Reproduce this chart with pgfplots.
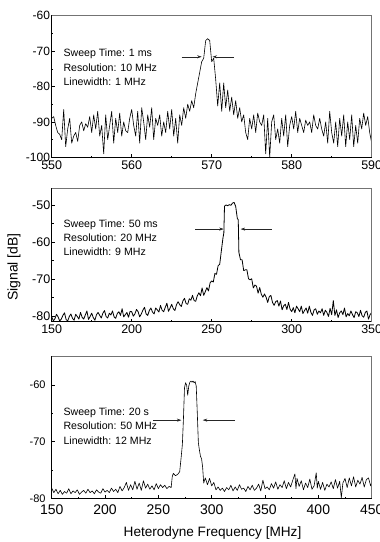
\documentclass[border=0pt]{standalone}
\usepackage{fontspec}
\setmainfont{Liberation Sans}
\usepackage{pgfplots}
\pgfplotsset{compat=1.18}
\usetikzlibrary{arrows.meta}
\begin{document}
\begin{tikzpicture}[x=1pt,y=1pt]
\pgfplotsset{panel/.style={
  scale only axis, width=320pt, anchor=north west,
  tick align=inside, tick pos=left,
  minor x tick num=1, minor y tick num=1,
  major tick length=3pt, minor tick length=1.8pt,
  tick style={black, line width=0.5pt},
  axis line style={line width=0.7pt},
  clip=false,
  /pgf/number format/assume math mode=true,
  /pgf/number format/1000 sep={},
}}
\tikzset{dat/.style={black, mark=none, line width=0.6pt, line join=round}}
\newcommand{\topright}{\draw[line width=0.8pt, black!55] (rel axis cs:0,1) -- (rel axis cs:1,1) -- (rel axis cs:1,0);}
\tikzset{arr/.style={-{Stealth[length=4.5pt,width=3pt]}, line width=0.5pt, black!85}}
% Panel 1
\begin{axis}[panel, at={(51.7pt,-15.7pt)}, height=141.6pt,
  xmin=550, xmax=590, ymin=-100, ymax=-60,
  xtick={550,560,570,580,590}, ytick={-100,-90,-80,-70,-60},
  xticklabel style={font=\fontsize{12.5}{12.5}\selectfont},
  yticklabel style={font=\fontsize{12}{12}\selectfont, inner xsep=1.5pt}]
\addplot[dat] coordinates {
(550.00,-89)(550.25,-88.5)(550.5,-91)(550.75,-93)(551.0,-93.5)(551.25,-95)(551.5,-86.5)(551.75,-97)
(552.0,-92)(552.25,-89)(552.5,-96)(552.75,-94)(553.0,-93)(553.25,-95.5)(553.5,-91)(553.75,-90)
(554.0,-92.5)(554.25,-90.5)(554.5,-91.5)(554.75,-88.5)(555.0,-93)(555.25,-88)(555.5,-92)(555.75,-87)
(556.0,-94)(556.25,-91)(556.5,-99)(556.75,-88)(557.0,-95)(557.25,-91)(557.5,-87)(557.75,-96)
(558.0,-89)(558.25,-93)(558.5,-87.5)(558.75,-94)(559.0,-90)(559.25,-92.5)(559.5,-93)(559.75,-89)
(560.0,-86.5)(560.25,-91)(560.5,-94)(560.75,-87)(561.0,-96)(561.25,-86)(561.5,-90)(561.75,-95)
(562.0,-88)(562.25,-91.5)(562.5,-86)(562.75,-95)(563.0,-89)(563.25,-91)(563.5,-88)(563.75,-94)
(564.0,-90)(564.25,-93)(564.5,-87)(564.75,-92)(565.0,-86.5)(565.25,-94)(565.5,-89)(565.75,-96)
(566.0,-88)(566.25,-91)(566.5,-86)(566.75,-89)(567.0,-85)(567.25,-87)(567.5,-84)(567.75,-86)
(568.0,-82)(568.25,-79)(568.5,-76)(568.75,-73)(569.0,-72)(569.25,-67)(569.5,-66.5)(569.75,-67)
(570.0,-73)(570.25,-72)(570.5,-78)(570.75,-85.5)(571.0,-79)(571.25,-87)(571.5,-79)(571.75,-86)
(572.0,-81)(572.25,-87)(572.5,-83)(572.75,-88)(573.0,-84)(573.25,-89)(573.5,-86)(573.75,-90)
(574.0,-88)(574.25,-93)(574.5,-95)(574.75,-89)(575.0,-92)(575.25,-88)(575.5,-93)(575.75,-87.5)
(576.0,-90)(576.25,-91)(576.5,-88)(576.75,-99)(577.0,-89)(577.25,-100)(577.5,-90)(577.75,-88)
(578.0,-95)(578.25,-92)(578.5,-96)(578.75,-89)(579.0,-94)(579.25,-88)(579.5,-97)(579.75,-91)
(580.0,-88.5)(580.25,-92)(580.5,-87)(580.75,-93)(581.0,-89)(581.25,-91)(581.5,-93)(581.75,-89.5)
(582.0,-91)(582.25,-90)(582.5,-93)(582.75,-88)(583.0,-91)(583.25,-92)(583.5,-89)(583.75,-92)
(584.0,-94)(584.25,-90)(584.5,-96)(584.75,-87)(585.0,-93)(585.25,-96)(585.5,-90)(585.75,-97)
(586.0,-89)(586.25,-94)(586.5,-88)(586.75,-97)(587.0,-90)(587.25,-95)(587.5,-88)(587.75,-97)
(588.0,-91)(588.25,-96)(588.5,-89)(588.75,-92)(589.0,-87.5)(589.25,-91)(589.5,-88.5)(589.75,-93)
(590.0,-96)};
\topright
\node[anchor=west, align=left, font=\fontsize{10.6}{14.5}\selectfont] at (rel axis cs:0.026,0.636) {Sweep Time: 1 ms\\Resolution: 10 MHz\\Linewidth: 1 MHz};
\draw[arr] (axis cs:566.25,-71.6) -- (axis cs:568.75,-71.6);
\draw[arr] (axis cs:572.8,-71.6) -- (axis cs:570.1,-71.6);
\end{axis}
% Panel 2
\begin{axis}[panel, at={(51.7pt,-188.3pt)}, height=133.4pt,
  xmin=150, xmax=350, ymin=-81.5, ymax=-45.5,
  xtick={150,200,250,300,350}, ytick={-80,-70,-60,-50},
  xticklabel style={font=\fontsize{12.5}{12.5}\selectfont},
  yticklabel style={font=\fontsize{12.5}{12.5}\selectfont, inner xsep=1.2pt}]
\addplot[dat, line width=0.8pt] coordinates {
(150,-80.1)(151,-81.3)(152,-80.7)(153,-79.5)(154,-80.2)(155,-81.3)(156,-80.8)(157,-79.8)(158,-79.1)(159,-80.9)
(160,-81.3)(161,-80.1)(162,-79.4)(163,-80.6)(164,-81.1)(165,-79.5)(166,-80.1)(167,-80.8)(168,-79.0)(169,-80.3)
(170,-80.8)(171,-79.7)(172,-78.6)(173,-80.9)(174,-80.1)(175,-79.2)(176,-80.4)(177,-81.1)(178,-79.6)(179,-79.0)
(180,-79.8)(181,-80.5)(182,-79.2)(183,-78.5)(184,-80.1)(185,-80.5)(186,-79.2)(187,-79.7)(188,-78.6)(189,-80.2)
(190,-80.6)(191,-79.3)(192,-78.8)(193,-79.8)(194,-78.0)(195,-80.2)(196,-79.6)(197,-79.0)(198,-80.3)(199,-78.7)
(200,-78.8)(201,-80.0)(202,-79.4)(203,-78.2)(204,-78.8)(205,-80.2)(206,-79.4)(207,-78.4)(208,-77.6)(209,-79.4)
(210,-79.8)(211,-78.5)(212,-77.8)(213,-78.9)(214,-79.4)(215,-77.8)(216,-78.3)(217,-78.9)(218,-77.1)(219,-78.4)
(220,-78.8)(221,-77.6)(222,-76.5)(223,-78.7)(224,-77.8)(225,-76.8)(226,-78.0)(227,-78.5)(228,-76.9)(229,-76.1)
(230,-76.9)(231,-77.4)(232,-75.9)(233,-75.2)(234,-76.6)(235,-76.8)(236,-75.3)(237,-75.7)(238,-74.4)(239,-75.8)
(240,-76.0)(241,-74.5)(242,-73.7)(243,-74.5)(244,-72.4)(245,-74.4)(246,-73.4)(247,-72.3)(248,-73.2)(249,-71.0)
(250,-70.5)(251,-70.8)(252,-68.5)(253,-68.7)(254,-66.4)(255,-66.0)(256,-62.5)(257,-59.0)(257.6,-57.5)(258,-50.3)
(259,-50.0)(260,-50.2)(261,-49.9)(262,-50.1)(263,-49.5)(264,-49.3)(265,-50.4)(266,-53.6)(266.6,-54)(267,-62.8)
(268,-64.8)(269,-64.8)(270,-67.7)(271,-67.5)(272,-67.5)(273,-69.9)(274,-70.2)(275,-69.9)(276,-72.4)(277,-71.6)
(278,-71.9)(279,-73.8)(280,-72.3)(281,-74.1)(282,-74.9)(283,-74.0)(284,-74.9)(285,-76.3)(286,-74.7)(287,-74.4)
(288,-76.3)(289,-77.1)(290,-76.1)(291,-75.8)(292,-77.3)(293,-75.9)(294,-78.3)(295,-77.2)(296,-76.8)(297,-78.2)
(298,-76.3)(299,-78.1)(300,-78.8)(301,-77.7)(302,-79.1)(303,-77.3)(304,-78.0)(305,-78.8)(306,-77.3)(307,-79.3)
(308,-78.5)(309,-77.8)(310,-79.2)(311,-77.3)(312,-79.0)(313,-79.8)(314,-78.3)(315,-78.0)(316,-79.5)(317,-78.6)
(318,-79.1)(319,-78.0)(320,-79.8)(321,-78.4)(322,-79.0)(323,-80.1)(324,-77.9)(325,-79.6)(326,-75.8)(327,-79.8)
(328,-78.3)(329,-80.4)(330,-79.1)(331,-78.6)(332,-79.6)(333,-77.8)(334,-80.2)(335,-79.3)(336,-79.9)(337,-78.6)
(338,-79.6)(339,-80.4)(340,-78.8)(341,-79.1)(342,-80.1)(343,-78.4)(344,-79.9)(345,-80.3)(346,-79.0)(347,-78.6)
(348,-80.8)(349,-79.6)(350,-79.0)};
\topright
\node[anchor=west, align=left, font=\fontsize{10.6}{14.3}\selectfont] at (rel axis cs:0.026,0.630) {Sweep Time: 50 ms\\Resolution: 20 MHz\\Linewidth: 9 MHz};
\draw[arr] (axis cs:239.6,-56.5) -- (axis cs:257.5,-56.5);
\draw[arr] (axis cs:287.5,-56.5) -- (axis cs:268.1,-56.5);
\end{axis}
% Panel 3
\begin{axis}[panel, at={(51.7pt,-356.7pt)}, height=141.6pt,
  xmin=150, xmax=450, ymin=-80, ymax=-55,
  xtick={150,200,250,300,350,400,450}, ytick={-80,-70,-60},
  xticklabel style={font=\fontsize{14}{14}\selectfont},
  xticklabel shift=2.5pt,
  yticklabel style={font=\fontsize{11}{11}\selectfont, inner xsep=6pt}]
\addplot[dat] coordinates {
(150,-78.2)(152,-79.0)(154,-78.4)(156,-79.2)(158,-78.6)(160,-79.3)(162,-78.8)(164,-79.1)(166,-78.3)(168,-79.2)
(170,-78.7)(172,-79.0)(174,-78.5)(176,-79.3)(178,-78.9)(180,-78.6)(182,-79.1)(184,-78.4)(186,-79.0)(188,-78.7)
(190,-79.2)(192,-78.5)(194,-78.9)(196,-79.1)(198,-78.3)(200,-78.9)(202,-78.6)(204,-79.0)(206,-78.2)(208,-78.8)
(210,-78.4)(212,-79.0)(214,-77.9)(216,-78.7)(218,-78.1)(220,-77.2)(222,-78.6)(224,-77.6)(226,-78.5)(228,-77.0)
(230,-78.4)(232,-77.3)(234,-78.6)(236,-76.9)(238,-78.2)(240,-77.5)(242,-78.4)(244,-77.8)(246,-78.5)(248,-77.4)
(250,-78.3)(252,-77.6)(254,-78.1)(256,-77.7)(258,-78.3)(260,-77.9)(262,-78.1)(263,-76.2)(264,-75.6)(266,-76.0)
(268,-75.8)(270,-75.3)(271.5,-72.5)(272.5,-70.5)(273.5,-66)(274.5,-60.5)(275.5,-59.6)(276.5,-60)(277.5,-61.8)(278.5,-60.2)
(279.5,-59.5)(280.5,-59.3)(281.5,-59.5)(282.5,-59.3)(283.5,-59.6)(284.5,-59.4)(285.5,-60.2)(286.5,-65)(287.5,-70.2)(288.5,-71.5)
(289.5,-72.6)(290.5,-73.0)(291.5,-74.5)(292.5,-77.3)(294,-76.4)(296,-77.6)(298,-76.5)(300,-77.8)(302,-77.2)(304,-78.5)
(306,-78.0)(308,-78.6)(310,-78.2)(312,-78.8)(314,-78.1)(316,-78.5)(318,-77.7)(320,-78.7)(322,-78.0)(324,-78.6)
(326,-77.6)(328,-78.4)(330,-78.2)(332,-78.8)(334,-77.9)(336,-78.5)(338,-77.7)(340,-78.6)(342,-78.2)(344,-77.5)
(346,-78.7)(348,-76.8)(350,-78.3)(352,-78.0)(354,-78.5)(356,-77.4)(358,-78.2)(360,-77.1)(362,-78.4)(364,-77.6)
(366,-78.1)(368,-76.9)(370,-78.3)(372,-77.2)(374,-78.0)(376,-76.8)(378,-75.7)(379,-78.3)(380,-76.5)(382,-77.9)
(384,-76.9)(386,-78.5)(388,-77.3)(390,-78.1)(392,-76.6)(394,-78.4)(396,-77.8)(398,-75.5)(399,-78.2)(400,-77.0)
(402,-78.4)(404,-77.2)(406,-78.6)(408,-77.5)(410,-78.0)(412,-77.1)(414,-78.3)(416,-76.7)(418,-78.2)(420,-77.0)
(421.5,-79.9)(423,-77.3)(425,-76.5)(427,-78.1)(429,-76.4)(431,-77.8)(433,-76.2)(435,-78.0)(437,-76.8)(439,-77.5)
(441,-76.3)(443,-78.0)(445,-76.7)(447,-76.4)(449,-77.8)(450,-77.2)};
\topright
\node[anchor=west, align=left, font=\fontsize{10.6}{14.3}\selectfont] at (rel axis cs:0.026,0.511) {Sweep Time: 20 s\\Resolution: 50 MHz\\Linewidth: 12 MHz};
\draw[arr] (axis cs:245.3,-66.2) -- (axis cs:271.6,-66.2);
\draw[arr] (axis cs:321.9,-66.2) -- (axis cs:291.6,-66.2);
\end{axis}
\node[rotate=90, font=\fontsize{14}{14}\selectfont] at (14pt,-267pt) {Signal [dB]};
\node[font=\fontsize{13.6}{14}\selectfont] at (212.5pt,-533pt) {Heterodyne Frequency [MHz]};
\pgfresetboundingbox
\useasboundingbox (0pt,0pt) rectangle (380pt,-542pt);
\end{tikzpicture}
\end{document}
